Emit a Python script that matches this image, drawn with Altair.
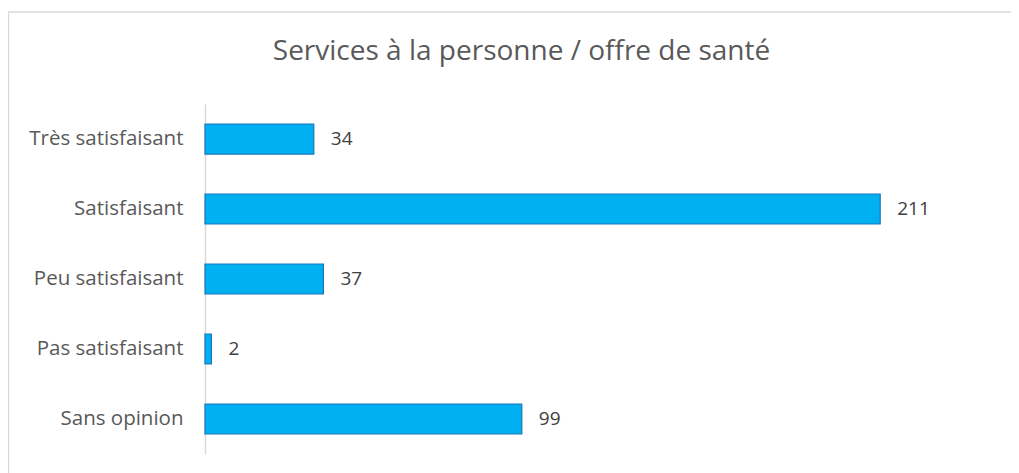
import altair as alt
import pandas as pd

categories = ["Très satisfaisant", "Satisfaisant", "Peu satisfaisant", "Pas satisfaisant", "Sans opinion"]
values = [34, 211, 37, 2, 99]
title_text = "Services à la personne / offre de santé"

df = pd.DataFrame({"cat": categories, "val": values})

W, H = 1003, 461
FONT = "Open Sans"

x_enc = alt.X("val:Q", axis=None, scale=alt.Scale(domain=[0, 250], range=[197, 997], nice=False))
y_enc = alt.Y("cat:N", sort=categories, title=None,
              scale=alt.Scale(range=[92, 442], paddingInner=0.571, paddingOuter=0.2857),
              axis=alt.Axis(offset=-197, ticks=False, labelPadding=22, labelFontSize=20.5,
                            labelFont=FONT, labelColor="#595959", domainColor="#D9D9D9",
                            domainWidth=1.5, grid=False, labelLimit=300))

base = alt.Chart(df)
bars = base.mark_bar(color="#00B0F0", stroke="#1C75BC", strokeWidth=1.2).encode(x=x_enc, y=y_enc)
labels = base.mark_text(align="left", baseline="middle", dx=17, fontSize=19, font=FONT,
                        color="#404040").encode(x=x_enc, y=y_enc, text="val:Q")

frame_df = pd.DataFrame({"a": [0]})
top_line = alt.Chart(frame_df).mark_rule(color="#D9D9D9", strokeWidth=1.5).encode(
    x=alt.value(0), x2=alt.value(W + 20), y=alt.value(0))
left_line = alt.Chart(frame_df).mark_rule(color="#D9D9D9", strokeWidth=1.5).encode(
    x=alt.value(0.5), y=alt.value(0), y2=alt.value(H))

chart = alt.layer(top_line, left_line, bars, labels).properties(
    width=W, height=H,
    title=alt.TitleParams(title_text, fontSize=28, font=FONT, fontWeight="normal",
                          color="#595959", anchor="middle", offset=-77, dx=12,
                          baseline="alphabetic"),
    autosize=alt.AutoSizeParams(type="none"),
    padding={"left": 0, "top": 4, "right": 0, "bottom": 0},
).configure_view(stroke=None)

chart.save("out.html", embed_options={"renderer": "svg", "actions": False})
